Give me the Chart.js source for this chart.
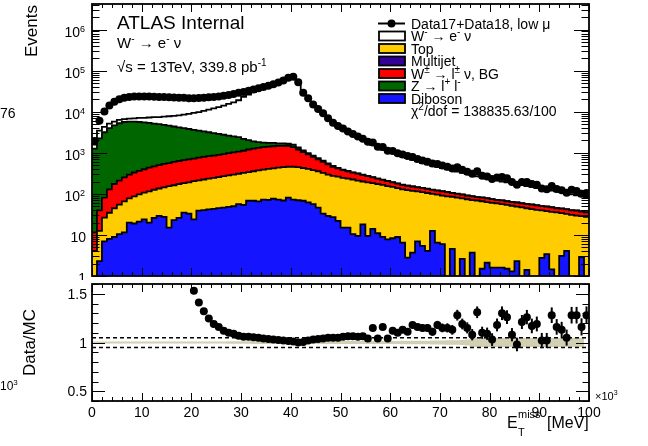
<!DOCTYPE html>
<html>
<head>
<meta charset="utf-8">
<script src="https://cdn.jsdelivr.net/npm/chart.js@4/dist/chart.umd.min.js"></script>
<style>
  html, body { margin: 0; padding: 0; background: #fff; }
  #wrap { position: relative; width: 648px; height: 446px; overflow: hidden; background: #fff; }
  canvas { position: absolute; left: 0; }
  #cMain { top: 0; }
  #cRatio { top: 280px; }
</style>
</head>
<body>
<div id="wrap">
  <canvas id="cMain" width="648" height="280"></canvas>
  <canvas id="cRatio" width="648" height="166"></canvas>
</div>
<script>
// binning: 100 bins of E_T^miss from 0 to 100 (x10^3 MeV)
const xLo = 0, xHi = 100, binW = 1;

// events per bin
const dataCounts = [
  1950, 6030, 10200, 14100, 17400, 20000, 21900, 22900, 23400, 23400,
  23400, 23400, 23300, 22900, 22800, 22400, 22300, 21900, 21800, 21400,
  21400, 21500, 21900, 22400, 22900, 23400, 24500, 25700, 26900, 28800,
  30200, 32400, 34700, 37200, 39800, 42700, 46800, 51300, 57500, 67600,
  70800, 52500, 28800, 21400, 15100, 11700, 9120, 6920, 5370, 4470,
  3890, 3310, 2880, 2510, 2190, 1860, 1780, 1410, 1380, 1120,
  1100, 977, 912, 832, 794, 708, 646, 603, 550, 537,
  490, 457, 417, 447, 389, 347, 309, 355, 275, 263,
  229, 251, 257, 240, 195, 166, 195, 195, 174, 166,
  135, 129, 155, 132, 123, 107, 126, 117, 100, 105
];
const wSignal = [
  326, 1228, 1104, 1148, 1077, 1062, 984, 1007, 1164, 1456,
  1584, 1874, 2284, 2401, 2800, 3191, 3578, 3959, 4530, 5111,
  5702, 6305, 7160, 8058, 9003, 9998, 11371, 12858, 14470, 16656,
  20721, 24261, 28295, 32854, 36241, 39949, 43971, 48421, 54536, 64409,
  67598, 51132, 27692, 19916, 13940, 10479, 8064, 6057, 4650, 3839,
  3242, 2729, 2356, 2031, 1750, 1506, 1295, 1113, 981, 866,
  785, 712, 646, 582, 524, 471, 423, 392, 363, 336,
  311, 287, 266, 246, 227, 210, 200, 185, 169, 162,
  149, 143, 130, 124, 118, 108, 103, 98, 92, 85,
  81, 76, 73, 70, 66, 60, 57, 52, 49, 45
];
const topBkg = [
  4.1, 10.3, 19.3, 26.7, 35.7, 44.5, 54.5, 57.6, 68, 76.7,
  83, 95, 100, 106, 117, 140, 139, 148, 147, 157,
  180, 175, 184, 192, 202, 212, 223, 234, 245, 253,
  270, 271, 287, 306, 317, 336, 341, 365, 378, 376,
  385, 377, 359, 345, 324, 309, 291, 266, 248, 241,
  230, 219, 213, 200, 182, 181, 168, 163, 157, 147,
  140, 129, 122, 120, 114, 108, 105, 101, 87, 89,
  85, 87, 80.5, 81, 75, 74, 67, 69, 64.6, 61,
  58.7, 57.3, 54.6, 52.2, 50, 46.7, 46.8, 43.3, 42.7, 40.7,
  37, 34.6, 34.9, 35.5, 30.8, 28.3, 30.9, 29.5, 25.9, 27.5
];
const wBkg = [
  7.4, 27, 55, 94, 129, 154, 185, 217, 244, 265,
  291, 322, 342, 366, 392, 407, 441, 457, 479, 502,
  520, 545, 570, 598, 606, 634, 664, 695, 728, 763,
  798, 863, 904, 946, 991, 1006, 1028, 1042, 1032, 1022,
  923, 755, 620, 505, 414, 337, 279, 230, 182, 154,
  135, 121, 107, 100, 88, 79, 69, 60, 53, 49,
  43, 40, 37, 35, 33.5, 29.5, 28, 27, 26, 24.5,
  23.8, 22.9, 19.9, 18.7, 17.9, 17.1, 16.3, 14, 15.2, 14.5,
  13.8, 11.9, 13, 12.4, 11.8, 12.7, 12.1, 11.5, 12.3, 11.8,
  10.3, 11, 10.5, 9.2, 9.8, 9.3, 8.9, 9.4, 8.4, 8
];
const zll = [
  1247, 2199, 3081, 3852, 4503, 5039, 5372, 5459, 5423, 5260,
  5097, 4933, 4661, 4511, 4249, 4009, 3762, 3538, 3320, 3110,
  2907, 2708, 2517, 2330, 2169, 1993, 1821, 1653, 1489, 1327,
  1066, 840, 646, 502, 398, 325, 293, 219, 219, 181,
  205, 147, 101, 65, 57, 49, 43, 25, 22, 10,
  9, 6, 5, 4, 4, 3, 3, 2, 2, 2,
  1.5, 1, 1, 1, 1, 1, 1, 1, 1, 1,
  1, 1, 1, 1, 1, 1, 0.5, 0.5, 0.5, 0.5,
  0.5, 0.5, 0.5, 0.5, 0.5, 0.5, 0.5, 0.5, 0.5, 0.5,
  0.5, 0.5, 0.5, 0.5, 0.5, 0.5, 0.5, 0.5, 0.5, 0.5
];
const diboson = [
  0, 2.3, 7, 8, 9, 10.5, 11.5, 20, 19, 21,
  24, 20, 26, 29, 27.5, 15, 23, 26, 35, 33,
  24, 39, 40, 42, 43, 45, 46, 48, 50, 56,
  54, 68, 68, 66, 72, 71, 76, 72, 69, 81,
  72, 70, 68, 62, 56, 46, 33, 29, 27, 22,
  15, 15, 10.5, 9.5, 18, 9.5, 14, 11, 9, 7.8,
  8.3, 8.9, 6.5, 2.8, 3.7, 7, 5.4, 4.1, 12.6, 6.5,
  6, 0, 4.6, 0, 2.6, 0, 3.7, 0, 1.5, 2.1,
  1.6, 1.6, 1.6, 1.5, 1.3, 2.3, 0, 1.4, 0, 0,
  2.75, 3.4, 1.45, 0, 3.1, 4.1, 0, 0, 2.9, 0
];

// Data/MC panel
const ratio = [
  null, null, null, null, null, null, null, null, null, null,
  null, null, null, null, null, null, null, null, null, null,
  1.53, 1.41, 1.32, 1.245, 1.19, 1.16, 1.12, 1.10, 1.09, 1.07,
  1.06, 1.06, 1.055, 1.05, 1.04, 1.035, 1.03, 1.025, 1.02, 1.015,
  1.01, 1.00, 1.005, 1.02, 1.03, 1.035, 1.04, 1.05, 1.05, 1.05,
  1.06, 1.065, 1.065, 1.06, 1.065, 1.04, 1.15, 1.04, 1.16, 1.04,
  1.12, 1.10, 1.13, 1.11, 1.18, 1.16, 1.15, 1.15, 1.11, 1.18,
  1.15, 1.15, 1.13, 1.28, 1.19, 1.15, 1.08, 1.31, 1.10, 1.09,
  1.03, 1.18, 1.30, 1.26, 1.08, 0.98, 1.21, 1.26, 1.17, 1.19,
  1.02, 1.02, 1.28, 1.16, 1.13, 1.05, 1.28, 1.28, 1.16, 1.28
];
const ratioErr = [
  null, null, null, null, null, null, null, null, null, null,
  null, null, null, null, null, null, null, null, null, null,
  0.004, 0.004, 0.004, 0.004, 0.004, 0.004, 0.004, 0.004, 0.004, 0.004,
  0.004, 0.004, 0.004, 0.004, 0.004, 0.004, 0.004, 0.004, 0.004, 0.004,
  0.005, 0.005, 0.006, 0.006, 0.007, 0.007, 0.008, 0.008, 0.009, 0.010,
  0.011, 0.012, 0.013, 0.014, 0.015, 0.016, 0.018, 0.019, 0.020, 0.022,
  0.024, 0.026, 0.028, 0.030, 0.032, 0.034, 0.036, 0.038, 0.040, 0.042,
  0.045, 0.047, 0.050, 0.055, 0.055, 0.057, 0.058, 0.060, 0.062, 0.063,
  0.065, 0.066, 0.070, 0.070, 0.068, 0.070, 0.072, 0.074, 0.075, 0.076,
  0.078, 0.078, 0.080, 0.080, 0.082, 0.082, 0.085, 0.085, 0.088, 0.090
];
// MC uncertainty band (half width around 1)
const mcErr = [
  0.010, 0.010, 0.010, 0.010, 0.010, 0.010, 0.010, 0.010, 0.010, 0.010,
  0.010, 0.010, 0.010, 0.010, 0.010, 0.010, 0.010, 0.010, 0.010, 0.010,
  0.010, 0.010, 0.010, 0.010, 0.010, 0.010, 0.010, 0.013, 0.013, 0.013,
  0.013, 0.013, 0.015, 0.015, 0.015, 0.015, 0.015, 0.015, 0.015, 0.015,
  0.015, 0.015, 0.015, 0.015, 0.015, 0.015, 0.015, 0.015, 0.015, 0.015,
  0.015, 0.015, 0.015, 0.015, 0.015, 0.015, 0.015, 0.015, 0.015, 0.015,
  0.016, 0.016, 0.017, 0.017, 0.018, 0.018, 0.019, 0.019, 0.020, 0.020,
  0.021, 0.022, 0.023, 0.024, 0.025, 0.030, 0.047, 0.047, 0.047, 0.047,
  0.047, 0.047, 0.047, 0.047, 0.047, 0.047, 0.047, 0.047, 0.047, 0.047,
  0.047, 0.047, 0.047, 0.047, 0.047, 0.047, 0.047, 0.047, 0.047, null
];

const xTicks = [0, 10, 20, 30, 40, 50, 60, 70, 80, 90, 100];
const ratioTicks = [0.5, 1, 1.5];

const FONT = '"Liberation Sans", Arial, Helvetica, sans-serif';
const colSignal = '#ffffff', colTop = '#ffcc00', colMultijet = '#330099';
const colWbkg = '#ff0000', colZ = '#006600', colDiboson = '#1414ff';
const colBand = '#d3cfb3';

// step outline points for a histogram
function histPoints(vals) {
  const pts = [];
  vals.forEach((v, i) => {
    const x0 = xLo + i * binW;
    if (v === null) { pts.push({x: x0 + binW / 2, y: null}); return; }
    pts.push({x: x0, y: v}, {x: x0 + binW, y: v});
  });
  return pts;
}

// stack from the bottom up
const stackSeries = [diboson, topBkg, wBkg, zll, wSignal];
const stackColors = [colDiboson, colTop, colWbkg, colZ, colSignal];
const cumul = [];
let run = diboson.map(() => 0);
stackSeries.forEach(s => {
  run = run.map((r, i) => r + s[i]);
  cumul.push(run);
});

function histDataset(vals, color) {
  return {
    data: histPoints(vals.map(v => Math.max(v, 1e-3))),
    borderColor: '#000', borderWidth: 1.8, backgroundColor: color,
    fill: 'start', pointRadius: 0, tension: 0
  };
}

function seg(ctx, x1, y1, x2, y2) {
  ctx.beginPath(); ctx.moveTo(x1, y1); ctx.lineTo(x2, y2); ctx.stroke();
}

// text with superscripts (m=1) / subscripts (m=-1)
function rich(ctx, x, y, parts, size) {
  let cx = x;
  ctx.textAlign = 'left'; ctx.textBaseline = 'alphabetic'; ctx.fillStyle = '#000';
  parts.forEach(([t, m]) => {
    const s = m ? Math.round(size * 0.68) : size;
    ctx.font = s + 'px ' + FONT;
    const dy = m === 1 ? -size * 0.42 : (m === -1 ? size * 0.28 : 0);
    ctx.fillText(t, cx, y + dy);
    cx += ctx.measureText(t).width;
  });
  return cx;
}

function rotText(ctx, text, x, y, align, size) {
  ctx.save();
  ctx.translate(x, y); ctx.rotate(-Math.PI / 2);
  ctx.font = size + 'px ' + FONT; ctx.fillStyle = '#000';
  ctx.textAlign = align; ctx.textBaseline = 'alphabetic';
  ctx.fillText(text, 0, 0);
  ctx.restore();
}

function xTickMarks(ctx, a, xs, major, minor) {
  for (let v = xLo; v <= xHi + 1e-9; v += 2) {
    const px = Math.round(xs.getPixelForValue(v)) + 0.5;
    const len = v % 10 === 0 ? major : minor;
    seg(ctx, px, a.bottom, px, a.bottom - len);
    seg(ctx, px, a.top, px, a.top + len);
  }
}

const legendRows = [
  {type: 'data', parts: [['Data17+Data18, low μ', 0]]},
  {color: colSignal, parts: [['W', 0], ['-', 1], [' → e', 0], ['-', 1], [' ν', 0]]},
  {color: colTop, parts: [['Top', 0]]},
  {color: colMultijet, parts: [['Multijet', 0]]},
  {color: colWbkg, parts: [['W', 0], ['±', 1], [' → l', 0], ['±', 1], [' ν, BG', 0]]},
  {color: colZ, parts: [['Z → l', 0], ['+', 1], [' l', 0], ['-', 1]]},
  {color: colDiboson, parts: [['Diboson', 0]]},
  {type: 'text', parts: [['χ', 0], ['2', 1], ['/dof = 138835.63/100', 0]]}
];

const mainDecor = {
  id: 'mainDecor',
  afterDraw(chart) {
    const ctx = chart.ctx, a = chart.chartArea;
    const xs = chart.scales.x, ys = chart.scales.y;
    ctx.save();
    ctx.strokeStyle = '#000'; ctx.lineWidth = 1;
    // log ticks on left and right
    for (let e = 0; e <= 6; e++) {
      for (let m = 1; m <= 9; m++) {
        const v = m * Math.pow(10, e);
        if (v < ys.min || v > ys.max) continue;
        const py = Math.round(ys.getPixelForValue(v)) + 0.5;
        const len = m === 1 ? 15 : 7.5;
        seg(ctx, a.left, py, a.left + len, py);
        seg(ctx, a.right, py, a.right - len, py);
      }
    }
    xTickMarks(ctx, a, xs, 8, 4);
    ctx.lineWidth = 1.8;
    ctx.strokeRect(a.left, a.top, a.right - a.left, a.bottom - a.top);

    // y labels
    ctx.fillStyle = '#000';
    for (let e = 0; e <= 6; e++) {
      const py = ys.getPixelForValue(Math.pow(10, e));
      ctx.textBaseline = 'alphabetic';
      if (e >= 2) {
        ctx.font = '9px ' + FONT;
        const ws = ctx.measureText(String(e)).width;
        ctx.textAlign = 'left'; ctx.fillText(String(e), 85 - ws, py + 2.5);
        ctx.font = '14px ' + FONT; ctx.textAlign = 'right';
        ctx.fillText('10', 85 - ws, py + 7);
      } else {
        ctx.font = '14px ' + FONT; ctx.textAlign = 'right';
        ctx.fillText(e === 1 ? '10' : '1', 86, py + 7);
      }
    }
    rotText(ctx, 'Events', 37, a.top + 1, 'right', 17);
    ctx.font = '14px ' + FONT; ctx.textAlign = 'left';
    ctx.fillText('76', 0, 118);

    // labels
    ctx.font = '19px ' + FONT; ctx.textAlign = 'left';
    ctx.fillText('ATLAS Internal', 117, 28.5);
    rich(ctx, 117, 48, [['W', 0], ['-', 1], [' → e', 0], ['-', 1], [' ν', 0]], 15);
    rich(ctx, 117, 72, [['√s = 13TeV, 339.8 pb', 0], ['-1', 1]], 15);

    // legend
    const ys0 = [23.5, 36, 48.5, 61, 73.5, 86, 98.5, 111];
    legendRows.forEach((r, i) => {
      const cy = ys0[i];
      if (r.type === 'data') {
        ctx.lineWidth = 2; seg(ctx, 378, cy, 405, cy);
        ctx.beginPath(); ctx.arc(391.5, cy, 4, 0, Math.PI * 2); ctx.fill();
      } else if (!r.type) {
        ctx.fillStyle = r.color; ctx.fillRect(379, cy - 4.5, 26, 9);
        ctx.lineWidth = 1.8; ctx.strokeRect(379, cy - 4.5, 26, 9);
      }
      rich(ctx, 411, cy + 5, r.parts, 14);
    });
    ctx.restore();
  }
};

new Chart(document.getElementById('cMain'), {
  type: 'line',
  data: {
    datasets: [
      {
        data: dataCounts.map((v, i) => ({x: xLo + (i + 0.5) * binW, y: v})),
        showLine: false, pointRadius: 4, pointBackgroundColor: '#000',
        pointBorderWidth: 0, borderColor: '#000'
      },
      histDataset(cumul[0], stackColors[0]),
      histDataset(cumul[1], stackColors[1]),
      histDataset(cumul[2], stackColors[2]),
      histDataset(cumul[3], stackColors[3]),
      histDataset(cumul[4], stackColors[4])
    ]
  },
  options: {
    responsive: false, animation: false, events: [],
    layout: {padding: {left: 0, right: 59, top: 4, bottom: 0}},
    plugins: {legend: {display: false}, tooltip: {enabled: false}},
    scales: {
      x: {
        type: 'linear', min: xLo, max: xHi,
        ticks: {display: false}, grid: {display: false, drawTicks: false}, border: {display: false},
        afterFit(s) { s.height = 4; }
      },
      y: {
        type: 'logarithmic', min: 1, max: 4.2e6,
        ticks: {display: false}, grid: {display: false, drawTicks: false}, border: {display: false},
        afterFit(s) { s.width = 92; }
      }
    }
  },
  plugins: [mainDecor]
});

const ratioDecor = {
  id: 'ratioDecor',
  beforeDatasetDraw(chart, args) {
    if (args.index !== 0) return;
    const ctx = chart.ctx, a = chart.chartArea;
    const xs = chart.scales.x, ys = chart.scales.y;
    ctx.save();
    ctx.strokeStyle = '#000';
    ctx.lineWidth = 1.5; ctx.setLineDash([4, 3]);
    [1.05, 0.95].forEach(v => {
      const py = ys.getPixelForValue(v);
      seg(ctx, a.left, py, a.right, py);
    });
    ctx.setLineDash([]);
    ctx.lineWidth = 2;
    ratio.forEach((r, i) => {
      if (r === null || !ratioErr[i]) return;
      const px = xs.getPixelForValue(xLo + (i + 0.5) * binW);
      seg(ctx, px, ys.getPixelForValue(r - ratioErr[i]), px, ys.getPixelForValue(r + ratioErr[i]));
    });
    ctx.restore();
  },
  afterDraw(chart) {
    const ctx = chart.ctx, a = chart.chartArea;
    const xs = chart.scales.x, ys = chart.scales.y;
    ctx.save();
    ctx.strokeStyle = '#000'; ctx.lineWidth = 1;
    for (let k = 4; k <= 16; k++) {
      const v = k / 10;
      const py = Math.round(ys.getPixelForValue(v)) + 0.5;
      const len = k % 5 === 0 ? 13 : 6.5;
      seg(ctx, a.left, py, a.left + len, py);
      seg(ctx, a.right, py, a.right - len, py);
    }
    xTickMarks(ctx, a, xs, 8, 4);
    ctx.lineWidth = 1.8;
    ctx.strokeRect(a.left, a.top, a.right - a.left, a.bottom - a.top);

    ctx.fillStyle = '#000'; ctx.textBaseline = 'alphabetic';
    ctx.font = '14px ' + FONT; ctx.textAlign = 'right';
    ratioTicks.forEach(v => ctx.fillText(String(v), 87, ys.getPixelForValue(v) + 5));
    ctx.textAlign = 'center';
    xTicks.forEach(v => ctx.fillText(String(v), xs.getPixelForValue(v), 137));

    rotText(ctx, 'Data/MC', 35, (a.top + a.bottom) / 2, 'center', 17);

    // axis title E_T^miss [MeV]
    ctx.textAlign = 'left';
    ctx.font = '16px ' + FONT; ctx.fillText('E', 507, 148);
    ctx.font = '11px ' + FONT; ctx.fillText('miss', 518, 138); ctx.fillText('T', 518, 156);
    ctx.font = '16px ' + FONT; ctx.fillText('[MeV]', 547, 148);

    rich(ctx, 595, 120, [['×10', 0], ['3', 1]], 11);
    rich(ctx, 0, 110, [['10', 0], ['3', 1]], 12);
    ctx.restore();
  }
};

new Chart(document.getElementById('cRatio'), {
  type: 'line',
  data: {
    datasets: [
      {
        data: ratio.map((r, i) => ({x: xLo + (i + 0.5) * binW, y: r})),
        showLine: false, pointRadius: 4, pointBackgroundColor: '#000',
        pointBorderWidth: 0, borderColor: '#000'
      },
      {
        data: histPoints(mcErr.map(e => e === null ? null : 1 + e)),
        borderColor: 'rgba(0,0,0,0)', borderWidth: 0, backgroundColor: colBand,
        fill: '+1', pointRadius: 0
      },
      {
        data: histPoints(mcErr.map(e => e === null ? null : 1 - e)),
        borderColor: 'rgba(0,0,0,0)', borderWidth: 0, fill: false, pointRadius: 0
      }
    ]
  },
  options: {
    responsive: false, animation: false, events: [],
    layout: {padding: {left: 0, right: 59, top: 2, bottom: 0}},
    plugins: {legend: {display: false}, tooltip: {enabled: false}},
    scales: {
      x: {
        type: 'linear', min: xLo, max: xHi,
        ticks: {display: false}, grid: {display: false, drawTicks: false}, border: {display: false},
        afterFit(s) { s.height = 45; }
      },
      y: {
        type: 'linear', min: 0.4, max: 1.6,
        ticks: {display: false}, grid: {display: false, drawTicks: false}, border: {display: false},
        afterFit(s) { s.width = 92; }
      }
    }
  },
  plugins: [ratioDecor]
});
</script>
</body>
</html>
